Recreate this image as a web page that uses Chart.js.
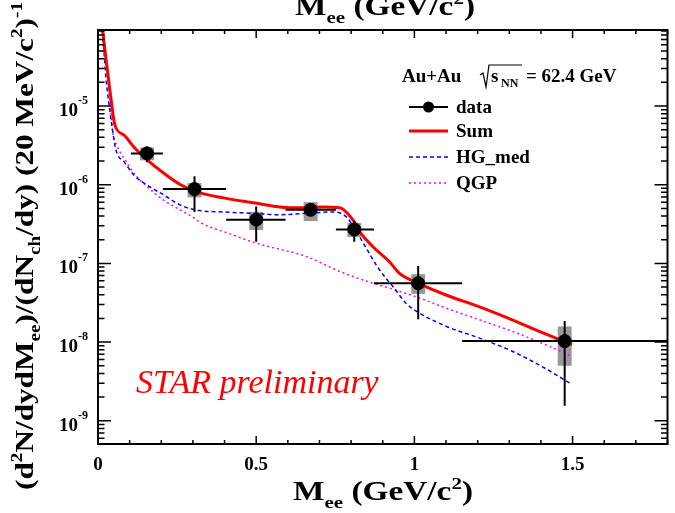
<!DOCTYPE html>
<html>
<head>
<meta charset="utf-8">
<script src="https://cdn.jsdelivr.net/npm/chart.js@4.4.1/dist/chart.umd.min.js"></script>
<style>
  html, body { margin: 0; padding: 0; background: #fff; }
  canvas { display: block; }
</style>
</head>
<body>
<canvas id="chart" width="675" height="513"></canvas>
<script>
// measured dielectron yield, Au+Au 62.4 GeV
const dataMass  = [0.155, 0.305, 0.50, 0.672, 0.81, 1.012, 1.475];
const dataYield = [2.5e-6, 8.8e-7, 3.6e-7, 4.8e-7, 2.7e-7, 5.6e-8, 1.03e-8];
const massLow   = [0.104, 0.205, 0.405, 0.593, 0.752, 0.872, 1.151];
const massHigh  = [0.205, 0.405, 0.593, 0.752, 0.872, 1.151, 1.8];
const statLow   = [1.93e-6, 4.5e-7, 1.89e-7, 4.1e-7, 1.89e-7, 1.95e-8, 1.55e-9];
const statHigh  = [3.07e-6, 1.28e-6, 5.3e-7, 5.5e-7, 3.48e-7, 9.24e-8, 1.86e-8];
const sysLow    = [2.04e-6, 6.9e-7, 2.65e-7, 3.45e-7, 2.16e-7, 4.1e-8, 5.0e-9];
const sysHigh   = [2.98e-6, 1.05e-6, 4.53e-7, 6.0e-7, 3.26e-7, 7.3e-8, 1.58e-8];

// model curves
const sumMass  = [0.005, 0.015, 0.03, 0.043, 0.053, 0.083, 0.114, 0.151, 0.209, 0.261, 0.313, 0.397, 0.502, 0.607, 0.712, 0.764, 0.777, 0.806, 0.827, 0.869, 0.921, 0.953, 1.013, 1.10, 1.204, 1.309, 1.414, 1.498];
const sumYield = [3e-4, 9.2e-5, 2.8e-5, 1.08e-5, 5.8e-6, 4.25e-6, 3.0e-6, 2.15e-6, 1.39e-6, 1.0e-6, 8.1e-7, 6.8e-7, 5.8e-7, 5.1e-7, 5.2e-7, 5.1e-7, 4.8e-7, 3.56e-7, 2.53e-7, 1.63e-7, 1.05e-7, 7.46e-8, 5.58e-8, 3.97e-8, 2.82e-8, 1.92e-8, 1.27e-8, 9.3e-9];

const hgMass  = [0.005, 0.018, 0.025, 0.036, 0.046, 0.057, 0.083, 0.114, 0.156, 0.209, 0.261, 0.313, 0.397, 0.502, 0.565, 0.649, 0.743, 0.785, 0.817, 0.848, 0.880, 0.911, 0.932, 0.974, 1.016, 1.10, 1.204, 1.309, 1.403, 1.498];
const hgYield = [2e-4, 5.5e-5, 2.3e-5, 9.7e-6, 4.9e-6, 2.74e-6, 1.94e-6, 1.32e-6, 9.86e-7, 7.36e-7, 5.5e-7, 4.75e-7, 4.5e-7, 4.3e-7, 4.15e-7, 4.3e-7, 4.5e-7, 3.9e-7, 2.53e-7, 1.56e-7, 9.5e-8, 6.4e-8, 5.1e-8, 3.1e-8, 2.34e-8, 1.59e-8, 1.13e-8, 7.66e-9, 4.9e-9, 2.9e-9];

const qgpMass  = [0.008, 0.018, 0.028, 0.039, 0.046, 0.062, 0.083, 0.114, 0.156, 0.209, 0.261, 0.303, 0.324, 0.41, 0.502, 0.659, 0.764, 0.869, 0.921, 1.016, 1.10, 1.204, 1.309, 1.414, 1.498];
const qgpYield = [2e-4, 7.4e-5, 2.8e-5, 1.07e-5, 4.9e-6, 3.0e-6, 2.15e-6, 1.39e-6, 9.4e-7, 6.3e-7, 4.75e-7, 3.8e-7, 3.3e-7, 2.43e-7, 1.8e-7, 1.22e-7, 7.9e-8, 5.6e-8, 4.85e-8, 3.63e-8, 2.7e-8, 1.93e-8, 1.37e-8, 9.3e-9, 6.6e-9];

// axis labels
const xTicks = [0, 0.5, 1, 1.5];
const xTickLabels = ["0", "0.5", "1", "1.5"];
const yTicks = [1e-9, 1e-8, 1e-7, 1e-6, 1e-5];
const yTickExps = ["-9", "-8", "-7", "-6", "-5"];

const SERIF = '"Liberation Serif", "Times New Roman", serif';

function pts(xs, ys) {
  return xs.map((x, i) => ({ x: x, y: ys[i] }));
}

// draw a run of text pieces, some of them super/subscript
function richWidth(ctx, segs, size) {
  let w = 0;
  segs.forEach(s => {
    ctx.font = "bold " + (s.s ? Math.round(size * 0.62) : size) + "px " + SERIF;
    w += ctx.measureText(s.t).width;
  });
  return w;
}
function drawRich(ctx, segs, x, y, size, width) {
  const nat = richWidth(ctx, segs, size);
  const k = width ? width / nat : 1;
  ctx.save();
  ctx.translate(x - nat * k / 2, y);
  ctx.scale(k, 1);
  ctx.textAlign = "left";
  ctx.textBaseline = "alphabetic";
  let cx = 0;
  segs.forEach(s => {
    const sz = s.s ? Math.round(size * 0.62) : size;
    ctx.font = "bold " + sz + "px " + SERIF;
    const dy = s.s === "sup" ? -size * 0.42 : (s.s === "sub" ? size * 0.28 : 0);
    ctx.fillText(s.t, cx, dy);
    cx += ctx.measureText(s.t).width;
  });
  ctx.restore();
}

const xTitle = [{ t: "M" }, { t: "ee", s: "sub" }, { t: " (GeV/c" }, { t: "2", s: "sup" }, { t: ")" }];
const yTitle = [{ t: "(d" }, { t: "2", s: "sup" }, { t: "N/dydM" }, { t: "ee", s: "sub" },
  { t: ")/(dN" }, { t: "ch", s: "sub" }, { t: "/dy) (20 MeV/c" }, { t: "2", s: "sup" },
  { t: ")" }, { t: "-1", s: "sup" }];

const decorations = {
  id: "decorations",
  beforeDatasetsDraw(chart) {
    const ctx = chart.ctx, xs = chart.scales.x, ys = chart.scales.y;
    ctx.save();
    ctx.fillStyle = "#999999";
    dataMass.forEach((m, i) => {
      const x0 = xs.getPixelForValue(m - 0.022), x1 = xs.getPixelForValue(m + 0.022);
      const y0 = ys.getPixelForValue(sysHigh[i]), y1 = ys.getPixelForValue(sysLow[i]);
      ctx.fillRect(x0, y0, x1 - x0, y1 - y0);
    });
    ctx.restore();
  },
  afterDatasetsDraw(chart) {
    const ctx = chart.ctx, xs = chart.scales.x, ys = chart.scales.y;
    ctx.save();
    ctx.strokeStyle = "#000";
    ctx.lineWidth = 2;
    dataMass.forEach((m, i) => {
      const px = xs.getPixelForValue(m), py = ys.getPixelForValue(dataYield[i]);
      ctx.beginPath();
      ctx.moveTo(xs.getPixelForValue(massLow[i]), py);
      ctx.lineTo(xs.getPixelForValue(massHigh[i]), py);
      ctx.moveTo(px, ys.getPixelForValue(statHigh[i]));
      ctx.lineTo(px, ys.getPixelForValue(statLow[i]));
      ctx.stroke();
    });
    ctx.restore();
  },
  afterDraw(chart) {
    const ctx = chart.ctx, xs = chart.scales.x, ys = chart.scales.y, a = chart.chartArea;
    ctx.save();
    ctx.strokeStyle = "#000";
    ctx.fillStyle = "#000";

    // ticks inside the frame
    ctx.lineWidth = 1.5;
    ctx.beginPath();
    for (let k = 0; k <= 18; k++) {
      const px = xs.getPixelForValue(k / 10);
      const len = k % 5 === 0 ? 8 : 4;
      ctx.moveTo(px, a.bottom); ctx.lineTo(px, a.bottom - len);
      ctx.moveTo(px, a.top); ctx.lineTo(px, a.top + len);
    }
    for (let e = -10; e <= -4; e++) {
      for (let m = 1; m <= 9; m++) {
        const v = m * Math.pow(10, e);
        if (v < ys.min || v > ys.max) continue;
        const py = ys.getPixelForValue(v);
        const len = m === 1 ? 13 : 6.5;
        ctx.moveTo(a.left, py); ctx.lineTo(a.left + len, py);
        ctx.moveTo(a.right, py); ctx.lineTo(a.right - len, py);
      }
    }
    ctx.stroke();

    // frame
    ctx.lineWidth = 2;
    ctx.strokeRect(a.left, a.top, a.right - a.left, a.bottom - a.top);

    // tick labels
    ctx.textBaseline = "alphabetic";
    ctx.textAlign = "center";
    ctx.font = "bold 19px " + SERIF;
    xTicks.forEach((v, i) => {
      ctx.fillText(xTickLabels[i], xs.getPixelForValue(v), 470);
    });
    yTicks.forEach((v, i) => {
      const py = ys.getPixelForValue(v);
      ctx.font = "bold 12px " + SERIF;
      const wSup = ctx.measureText(yTickExps[i]).width;
      ctx.textAlign = "right";
      ctx.fillText(yTickExps[i], 88, py - 2);
      ctx.font = "bold 19px " + SERIF;
      ctx.fillText("10", 88 - wSup, py + 10);
    });

    // axis titles
    ctx.fillStyle = "#000";
    drawRich(ctx, xTitle, 383, 500, 27, 180);
    drawRich(ctx, xTitle, 385, 15, 27, 180);
    ctx.save();
    ctx.translate(33, 246);
    ctx.rotate(-Math.PI / 2);
    drawRich(ctx, yTitle, 0, 0, 26, 488);
    ctx.restore();

    // legend header
    ctx.textAlign = "left";
    ctx.font = "bold 19px " + SERIF;
    ctx.fillText("Au+Au", 402, 82);
    ctx.lineWidth = 1.2;
    ctx.beginPath();
    ctx.moveTo(480, 75); ctx.lineTo(483, 73); ctx.lineTo(486, 87);
    ctx.lineTo(489, 65); ctx.lineTo(522, 65);
    ctx.stroke();
    ctx.fillText("s", 491, 82);
    ctx.font = "bold 12px " + SERIF;
    ctx.fillText("NN", 501, 87);
    ctx.font = "bold 19px " + SERIF;
    ctx.fillText("= 62.4 GeV", 526, 82);

    // legend entries
    const rows = [
      { label: "data", y: 107 },
      { label: "Sum", y: 131 },
      { label: "HG_med", y: 157 },
      { label: "QGP", y: 183 }
    ];
    const x0 = 409, x1 = 448;
    rows.forEach((r, i) => {
      ctx.save();
      ctx.beginPath();
      if (i === 0) { ctx.strokeStyle = "#000"; ctx.lineWidth = 2; }
      if (i === 1) { ctx.strokeStyle = "#ff0000"; ctx.lineWidth = 3; }
      if (i === 2) { ctx.strokeStyle = "#0000ff"; ctx.lineWidth = 1.5; ctx.setLineDash([4, 3]); }
      if (i === 3) { ctx.strokeStyle = "#ff00ff"; ctx.lineWidth = 1.5; ctx.setLineDash([2, 3]); }
      ctx.moveTo(x0, r.y); ctx.lineTo(x1, r.y);
      ctx.stroke();
      if (i === 0) {
        ctx.fillStyle = "#000";
        ctx.beginPath();
        ctx.arc((x0 + x1) / 2, r.y, 5.5, 0, Math.PI * 2);
        ctx.fill();
      }
      ctx.restore();
      ctx.font = "bold 19px " + SERIF;
      ctx.fillText(r.label, 456, r.y + 6);
    });

    // preliminary tag
    ctx.fillStyle = "#ff0000";
    ctx.font = "italic 34px " + SERIF;
    ctx.fillText("STAR preliminary", 136, 393);
    ctx.restore();
  }
};

new Chart(document.getElementById("chart"), {
  type: "line",
  data: {
    datasets: [
      {
        label: "data",
        type: "scatter",
        data: pts(dataMass, dataYield),
        pointRadius: 6.5,
        pointBackgroundColor: "#000",
        pointBorderColor: "#000",
        showLine: false,
        order: 0
      },
      {
        label: "Sum",
        data: pts(sumMass, sumYield),
        borderColor: "#ff0000",
        borderWidth: 3,
        pointRadius: 0,
        cubicInterpolationMode: "monotone",
        order: 1
      },
      {
        label: "HG_med",
        data: pts(hgMass, hgYield),
        borderColor: "#0000ff",
        borderWidth: 1.5,
        borderDash: [4, 3],
        pointRadius: 0,
        cubicInterpolationMode: "monotone",
        order: 2
      },
      {
        label: "QGP",
        data: pts(qgpMass, qgpYield),
        borderColor: "#ff00ff",
        borderWidth: 1.5,
        borderDash: [2, 3],
        pointRadius: 0,
        cubicInterpolationMode: "monotone",
        order: 3
      }
    ]
  },
  options: {
    responsive: false,
    animation: false,
    layout: { padding: { left: 98, top: 30, right: 7, bottom: 69 } },
    plugins: { legend: { display: false }, tooltip: { enabled: false } },
    scales: {
      x: { type: "linear", min: 0, max: 1.8, display: false },
      y: { type: "logarithmic", min: 5.07e-10, max: 9.25e-5, display: false }
    }
  },
  plugins: [decorations]
});
</script>
</body>
</html>
